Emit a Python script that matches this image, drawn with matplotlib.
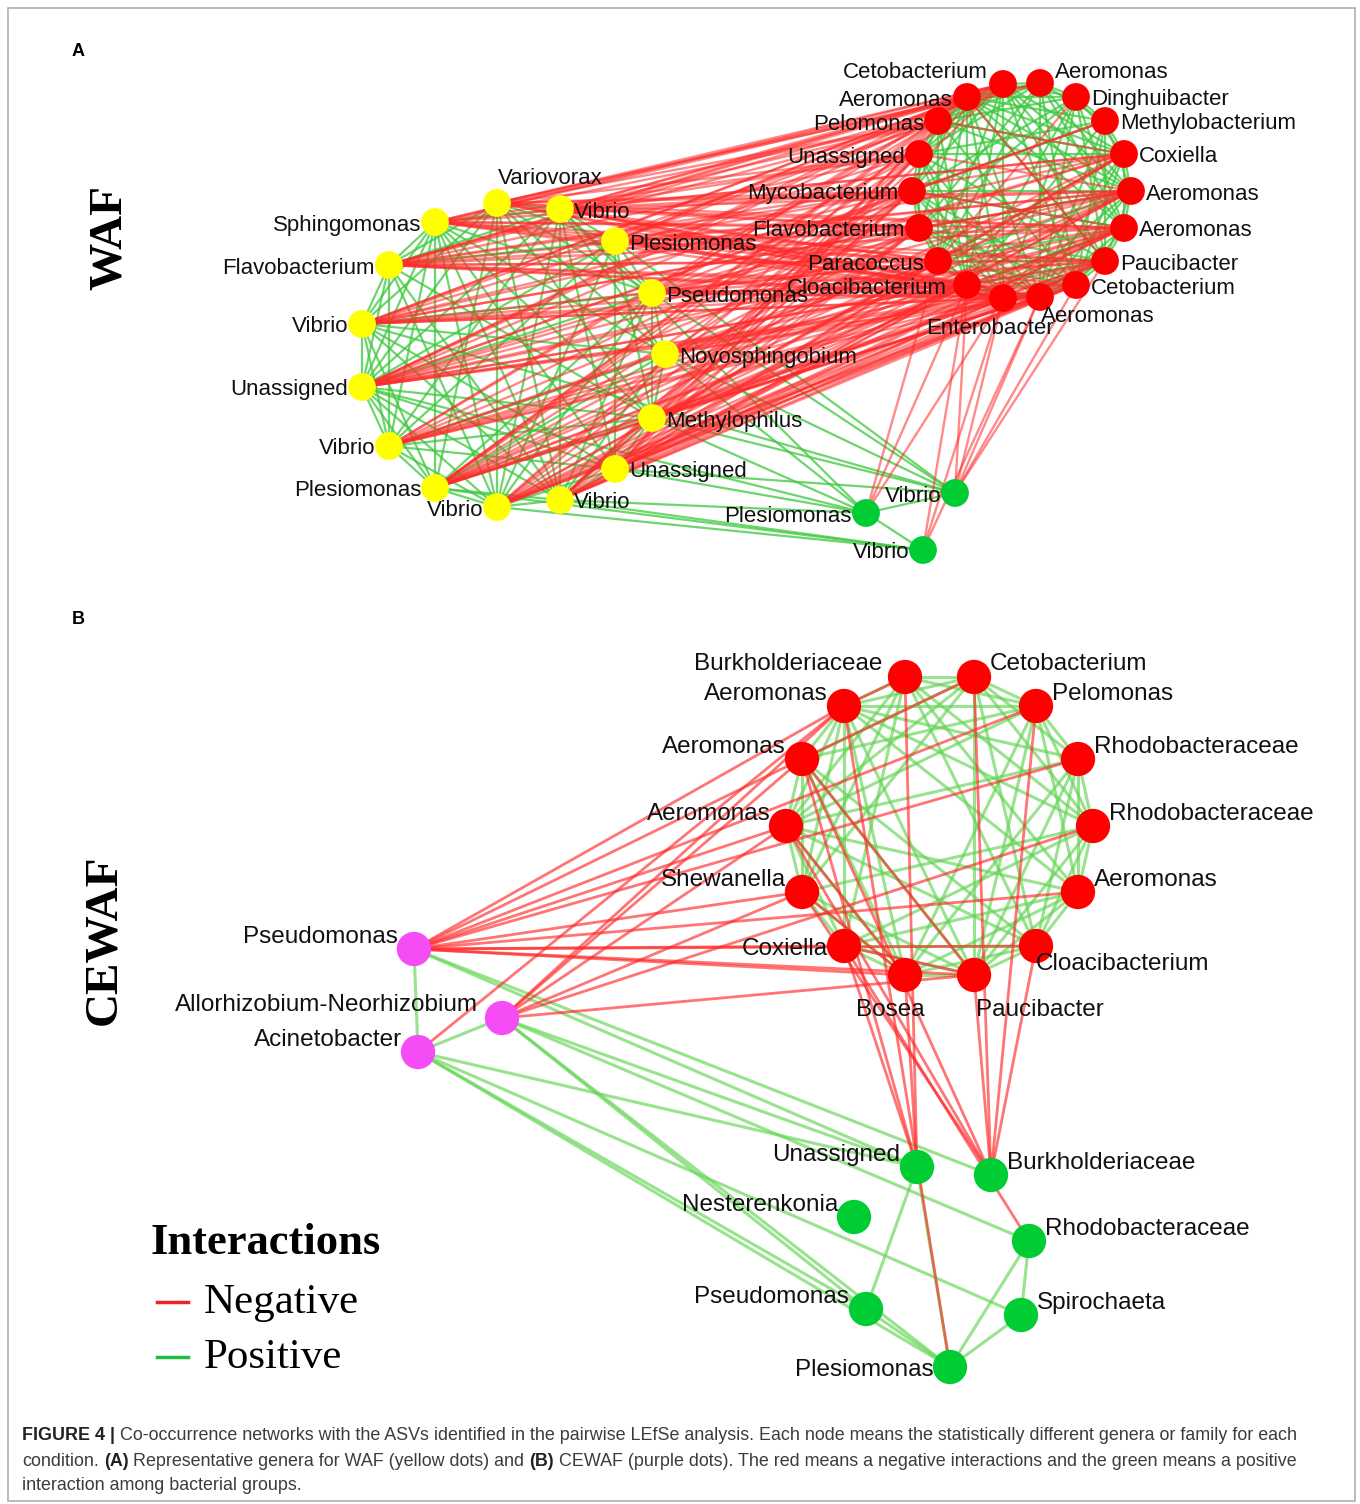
import matplotlib
matplotlib.use("Agg")
import matplotlib.pyplot as plt
from matplotlib.collections import LineCollection
from matplotlib.patches import Rectangle

# ---------------- Panel A (WAF) ----------------
waf_yellow_names = ["Variovorax", "Vibrio", "Plesiomonas", "Pseudomonas", "Novosphingobium",
                    "Methylophilus", "Unassigned", "Vibrio", "Vibrio", "Plesiomonas", "Vibrio",
                    "Unassigned", "Vibrio", "Flavobacterium", "Sphingomonas"]
waf_yellow_x = [497, 560, 615, 652, 665, 652, 615, 560, 497, 435, 389, 362, 362, 389, 435]
waf_yellow_y = [203, 209, 241, 293, 354, 418, 469, 500, 507, 488, 446, 387, 324, 265, 222]

waf_red_names = ["Cetobacterium", "Aeromonas", "Dinghuibacter", "Methylobacterium", "Coxiella",
                 "Aeromonas", "Aeromonas", "Paucibacter", "Cetobacterium", "Aeromonas",
                 "Enterobacter", "Cloacibacterium", "Paracoccus", "Flavobacterium",
                 "Mycobacterium", "Unassigned", "Pelomonas", "Aeromonas"]
waf_red_x = [1003, 1040, 1076, 1105, 1124, 1131, 1124, 1105, 1076, 1040, 1003, 967, 938, 919, 912, 919, 938, 967]
waf_red_y = [84, 83, 97, 121, 154, 191, 228, 261, 285, 297, 298, 285, 261, 228, 191, 154, 121, 97]

waf_green_names = ["Vibrio", "Plesiomonas", "Vibrio"]
waf_green_x = [955, 866, 923]
waf_green_y = [493, 513, 550]

# positive links among yellow nodes (upper triangle rows)
waf_yy_pos = ["11111011101110", "1110111011011", "101101011010", "11011101101",
              "1010110101", "110111011", "11011101", "1101111", "111011", "11101",
              "1111", "111", "11", "1"]
# negative links yellow -> red (one row per yellow node)
waf_yr_neg = ["110001100011111111", "100011100111111111", "100001110111111011",
              "000011111111111101", "000000110111111000", "000001111111111100",
              "000011111111111110", "100001111111111101", "000011111111111110",
              "100011111111111111", "000001111011111011", "100111111111111111",
              "100011011111111111", "110011111111111111", "100010111011111111"]
# positive links among red nodes (upper triangle rows)
waf_rr_pos = ["11011111011101110", "1101101100110111", "110110111011011",
              "11011101001101", "1101110100111", "110110111011", "11101101001",
              "1101110101", "110111010", "11011101", "1101101", "110111", "11011",
              "1101", "111", "11", "1"]
waf_rr_neg = [(16, 4), (15, 5), (14, 6), (13, 5), (12, 4), (11, 6), (3, 14), (2, 12), (17, 7)]
waf_yg_pos = [(3, 0), (4, 0), (4, 1), (5, 1), (5, 0), (6, 0), (6, 1), (7, 1), (8, 2),
              (7, 2), (1, 1), (11, 1), (12, 0), (9, 2), (2, 0)]
waf_rg_neg = [(10, 0), (9, 0), (8, 0), (7, 0), (11, 0), (11, 1), (12, 1), (10, 1),
              (10, 2), (11, 2), (9, 2)]
waf_gg_pos = [(0, 1), (1, 2)]

# ---------------- Panel B (CEWAF) ----------------
cewaf_red_names = ["Burkholderiaceae", "Cetobacterium", "Pelomonas", "Rhodobacteraceae",
                   "Rhodobacteraceae", "Aeromonas", "Cloacibacterium", "Paucibacter", "Bosea",
                   "Coxiella", "Shewanella", "Aeromonas", "Aeromonas", "Aeromonas"]
cewaf_red_x = [905, 974, 1036, 1078, 1093, 1078, 1036, 974, 905, 844, 802, 786, 802, 844]
cewaf_red_y = [677, 677, 706, 759, 826, 892, 946, 975, 975, 946, 892, 826, 759, 706]

cewaf_pink_names = ["Pseudomonas", "Allorhizobium-Neorhizobium", "Acinetobacter"]
cewaf_pink_x = [414, 502, 418]
cewaf_pink_y = [949, 1018, 1052]

cewaf_green_names = ["Unassigned", "Burkholderiaceae", "Nesterenkonia", "Rhodobacteraceae",
                     "Pseudomonas", "Spirochaeta", "Plesiomonas"]
cewaf_green_x = [917, 991, 854, 1029, 866, 1021, 950]
cewaf_green_y = [1167, 1175, 1217, 1241, 1309, 1315, 1367]

cewaf_rr_pos = ["1101110011101", "111011001111", "11101100111", "1111100101",
                "111011001", "11110101", "1110110", "111011", "11111", "1101", "111", "11", "1"]
cewaf_rr_neg = [(0, 13), (12, 7), (10, 8), (9, 7), (11, 8), (1, 12)]
cewaf_pr_neg = [(0, 13), (0, 12), (0, 11), (0, 10), (0, 9), (0, 8), (0, 7), (0, 6), (0, 5),
                (0, 3), (0, 2), (1, 13), (1, 12), (1, 11), (1, 4), (1, 7), (1, 10), (2, 13)]
cewaf_pp_pos = [(0, 2), (1, 2)]
cewaf_pg_pos = [(0, 0), (0, 1), (1, 0), (1, 3), (1, 4), (1, 6), (2, 5), (2, 4), (2, 6), (2, 0)]
cewaf_rg_neg = [(13, 6), (0, 0), (9, 0), (8, 0), (12, 0), (12, 1), (11, 1), (10, 1), (9, 3),
                (7, 1), (6, 1), (2, 1), (1, 1)]
cewaf_gg_pos = [(0, 4), (0, 6), (4, 6), (3, 6), (3, 5), (5, 6)]

caption_lines = [
    [("FIGURE 4 |", True), ("Co-occurrence networks with the ASVs identified in the pairwise LEfSe "
                            "analysis. Each node means the statistically different genera or family for each", False)],
    [("condition.", False), ("(A)", True), ("Representative genera for WAF (yellow dots) and", False),
     ("(B)", True), ("CEWAF (purple dots). The red means a negative interactions and the green means a positive", False)],
    [("interaction among bacterial groups.", False)],
]

# ---------------- label layout (dx, dy, ha) ----------------
waf_yellow_lab = [(53, -27, "center")] + [(14, 1, "left")] * 7 + [(-14, 1, "right")] * 7
waf_red_lab = [(-15, -13, "right"), (15, -12, "left"), (15, 1, "left"), (15, 1, "left"),
               (15, 1, "left"), (15, 1, "left"), (15, 1, "left"), (15, 1, "left"),
               (15, 2, "left"), (58, 17, "center"), (-13, 29, "center"), (-20, 2, "right"),
               (-14, 1, "right"), (-14, 1, "right"), (-14, 1, "right"), (-14, 1, "right"),
               (-14, 1, "right"), (-14, 1, "right")]
waf_green_lab = [(-14, 1, "right")] * 3
cewaf_red_lab = [(-23, -15, "right"), (16, -15, "left"), (16, -14, "left"), (16, -14, "left"),
                 (16, -14, "left"), (16, -14, "left"), (0, 16, "left"), (66, 33, "center"),
                 (-15, 33, "center"), (-16, 1, "right"), (-16, -14, "right"), (-15, -14, "right"),
                 (-16, -14, "right"), (-16, -14, "right")]
cewaf_pink_lab = [(-16, -14, "right"), (-24, -15, "right"), (-16, -14, "right")]
cewaf_green_lab = [(-17, -14, "right"), (16, -14, "left"), (-16, -14, "right"), (16, -14, "left"),
                   (-17, -14, "right"), (16, -14, "left"), (-16, 1, "right")]

RED_NODE = "#ff0000"
YEL_NODE = "#ffff00"
GRN_NODE = "#00cc33"
PNK_NODE = "#f54cf5"
RED_EDGE = "#ff2a2a"
GRN_EDGE = "#3cc83c"
GRN_EDGE_B = "#62d452"


def tri_pairs(rows):
    out = []
    for i, row in enumerate(rows):
        for k, ch in enumerate(row):
            if ch == "1":
                out.append((i, i + 1 + k))
    return out


def block_pairs(rows):
    out = []
    for i, row in enumerate(rows):
        for j, ch in enumerate(row):
            if ch == "1":
                out.append((i, j))
    return out


def segs(pairs, ax_, ay_, bx_, by_):
    return [[(ax_[i], ay_[i]), (bx_[j], by_[j])] for i, j in pairs]


fig = plt.figure(figsize=(13.6, 15.04), dpi=100)
ax = fig.add_axes([0, 0, 1, 1])
ax.set_xlim(0, 1360)
ax.set_ylim(1504, 0)
ax.axis("off")

ax.add_patch(Rectangle((8, 8), 1347, 1493, fill=False, edgecolor="#b0b0b0", lw=1.2))

# ---- panel A edges ----
Yx, Yy, Rx, Ry, Gx, Gy = waf_yellow_x, waf_yellow_y, waf_red_x, waf_red_y, waf_green_x, waf_green_y
green_a = (segs(tri_pairs(waf_yy_pos), Yx, Yy, Yx, Yy) + segs(tri_pairs(waf_rr_pos), Rx, Ry, Rx, Ry)
           + segs(waf_yg_pos, Yx, Yy, Gx, Gy) + segs(waf_gg_pos, Gx, Gy, Gx, Gy))
red_a = (segs(block_pairs(waf_yr_neg), Yx, Yy, Rx, Ry) + segs(waf_rr_neg, Rx, Ry, Rx, Ry)
         + segs(waf_rg_neg, Rx, Ry, Gx, Gy))
ax.add_collection(LineCollection(green_a, colors=GRN_EDGE, linewidths=1.6, alpha=0.75, zorder=1))
ax.add_collection(LineCollection(red_a, colors=RED_EDGE, linewidths=1.7, alpha=0.55, zorder=1.5))

# ---- panel B edges ----
Bx, By, Px, Py, Cx, Cy = cewaf_red_x, cewaf_red_y, cewaf_pink_x, cewaf_pink_y, cewaf_green_x, cewaf_green_y
green_b = (segs(tri_pairs(cewaf_rr_pos), Bx, By, Bx, By) + segs(cewaf_pp_pos, Px, Py, Px, Py)
           + segs(cewaf_pg_pos, Px, Py, Cx, Cy) + segs(cewaf_gg_pos, Cx, Cy, Cx, Cy))
red_b = (segs(cewaf_rr_neg, Bx, By, Bx, By) + segs(cewaf_pr_neg, Px, Py, Bx, By)
         + segs(cewaf_rg_neg, Bx, By, Cx, Cy))
ax.add_collection(LineCollection(green_b, colors=GRN_EDGE_B, linewidths=2.2, alpha=0.65, zorder=1))
ax.add_collection(LineCollection(red_b, colors=RED_EDGE, linewidths=2.0, alpha=0.65, zorder=1.5))

# ---- nodes + labels ----
groups = [
    (Yx, Yy, waf_yellow_names, waf_yellow_lab, YEL_NODE, 400, 16),
    (Rx, Ry, waf_red_names, waf_red_lab, RED_NODE, 400, 16),
    (Gx, Gy, waf_green_names, waf_green_lab, GRN_NODE, 400, 16),
    (Bx, By, cewaf_red_names, cewaf_red_lab, RED_NODE, 610, 17.5),
    (Px, Py, cewaf_pink_names, cewaf_pink_lab, PNK_NODE, 610, 17.5),
    (Cx, Cy, cewaf_green_names, cewaf_green_lab, GRN_NODE, 610, 17.5),
]
for xs, ys, names, lab, col, size, fs in groups:
    ax.scatter(xs, ys, s=size, color=col, edgecolors="none", zorder=3)
    for x, y, name, (dx, dy, ha) in zip(xs, ys, names, lab):
        ax.text(x + dx, y + dy + 2, name, fontsize=fs, family="Liberation Sans", ha=ha,
                va="center", color="#111111", zorder=4)

# ---- panel letters and side titles ----
ax.text(78, 51, "A", fontsize=13, fontweight="bold", family="Liberation Sans", ha="center", va="center")
ax.text(78, 619, "B", fontsize=13, fontweight="bold", family="Liberation Sans", ha="center", va="center")
ax.text(110, 238, "WAF", fontsize=34, fontweight="bold", family="Liberation Serif",
        rotation=90, ha="center", va="center")
ax.text(104, 940, "CEWAF", fontsize=34, fontweight="bold", family="Liberation Serif",
        rotation=90, ha="center", va="center")

# ---- legend ----
ax.text(150, 1243, "Interactions", fontsize=32, fontweight="bold", family="Liberation Serif",
        ha="left", va="center")
ax.plot([157, 188], [1302, 1302], color="#ee2222", lw=2.5)
ax.plot([157, 188], [1357, 1357], color="#22bb44", lw=2.5)
ax.text(204, 1303, "Negative", fontsize=31, family="Liberation Serif", ha="left", va="center")
ax.text(204, 1358, "Positive", fontsize=31, family="Liberation Serif", ha="left", va="center")

# ---- caption ----
renderer = fig.canvas.get_renderer()


def text_width(s, fs, bold):
    t = ax.text(0, 0, s, fontsize=fs, family="Liberation Sans", fontweight="bold" if bold else "normal")
    w = t.get_window_extent(renderer=renderer).width
    t.remove()
    return w


base_fs = 10
space = text_width("a a", base_fs, False) - text_width("aa", base_fs, False)
line1_w = sum(text_width(s, base_fs, b) for s, b in caption_lines[0]) + space
cap_fs = base_fs * (1303 - 22) / line1_w
space = space * cap_fs / base_fs

for k, line in enumerate(caption_lines):
    x = 22
    y = 1436 + 25 * k
    for s, b in line:
        t = ax.text(x, y, s, fontsize=cap_fs, family="Liberation Sans",
                    fontweight="bold" if b else "normal",
                    color="#222222" if b else "#3c3c3c", ha="left", va="center")
        x += t.get_window_extent(renderer=renderer).width + space

fig.savefig("out.png", dpi=100)
